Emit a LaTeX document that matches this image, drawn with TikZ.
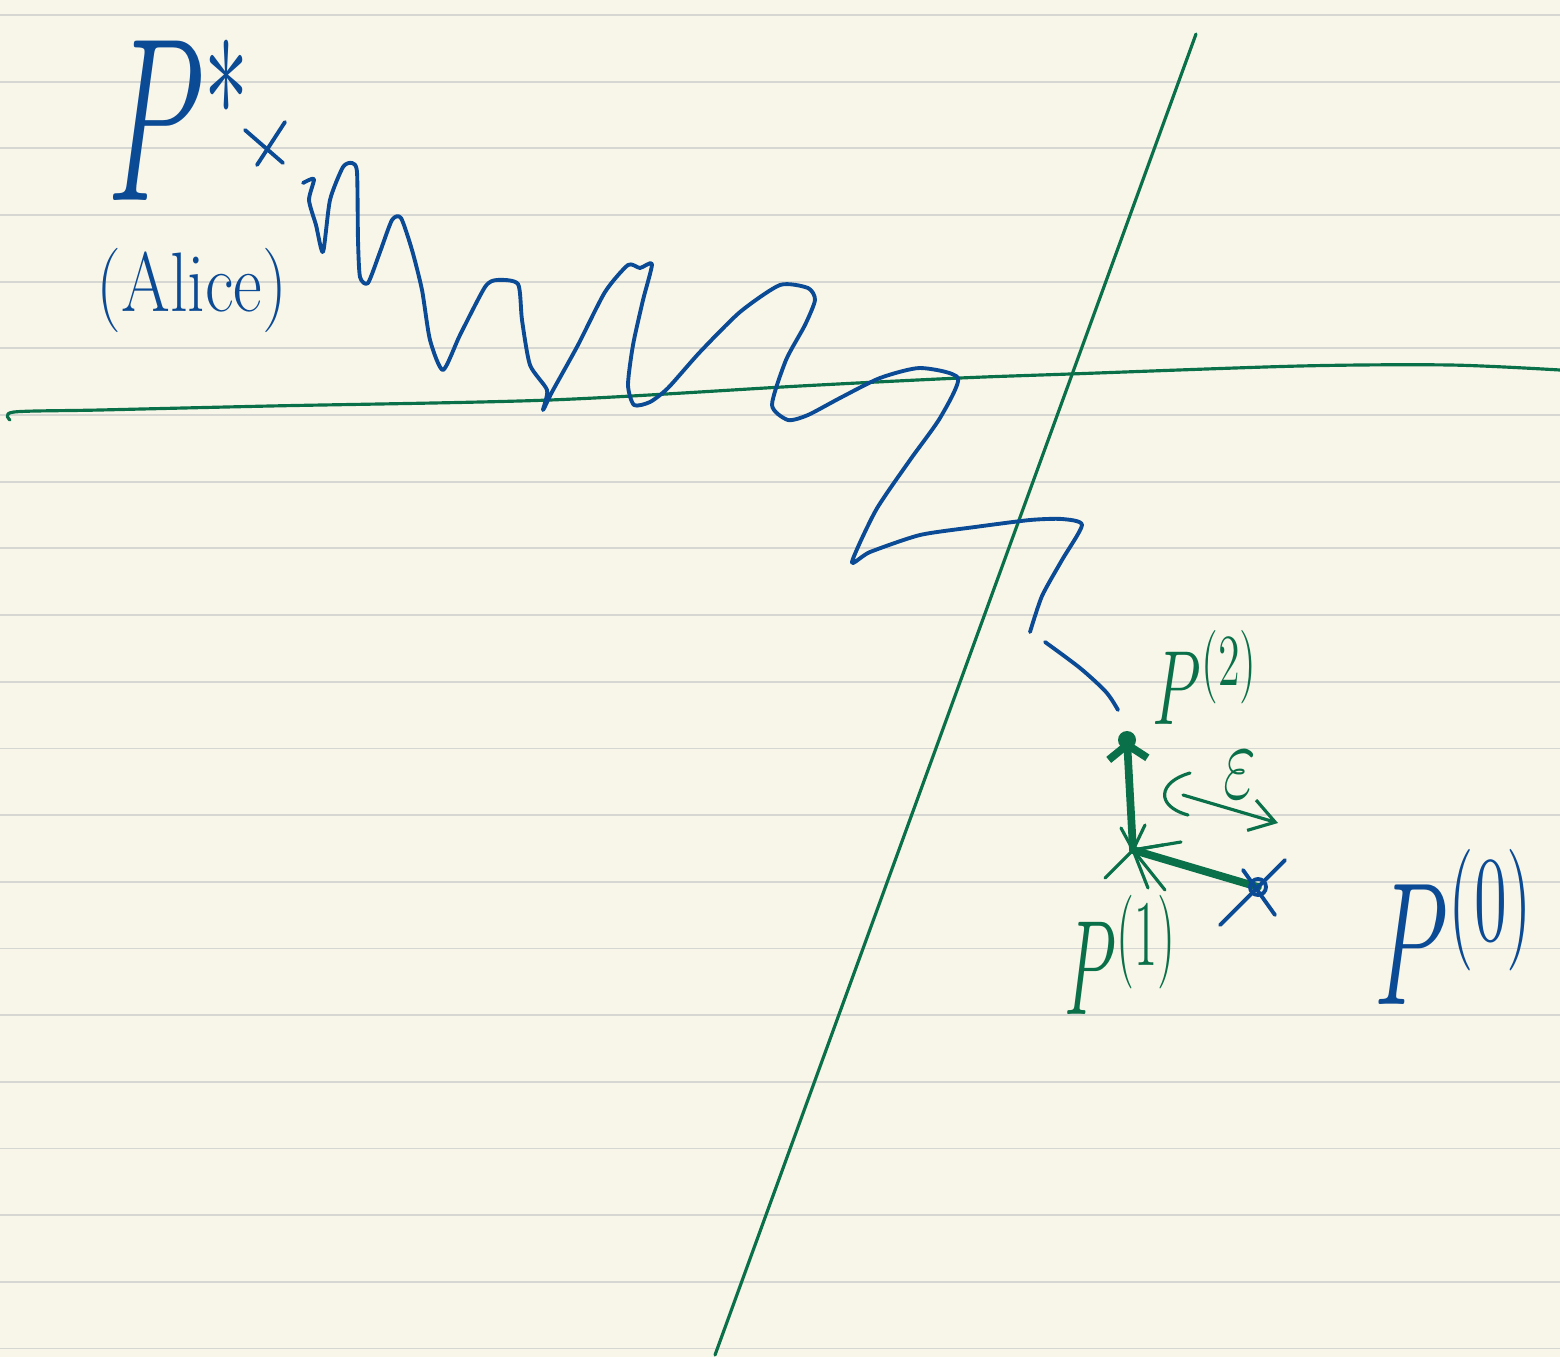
\documentclass[tikz,border=0pt]{standalone}
\usepackage{amsmath}
\usepackage{xcolor}
\usetikzlibrary{arrows.meta}

\definecolor{paper}{HTML}{F8F6E9}
\definecolor{rule}{HTML}{D6D6D2}
\definecolor{inkblue}{HTML}{0B4A94}
\definecolor{inkgreen}{HTML}{0A7049}

\begin{document}
\begin{tikzpicture}[
    x=0.01cm, y=-0.01cm,
    ruled/.style={draw=rule, line width=0.5pt},
    blueink/.style={draw=inkblue, line width=1.1pt, line cap=round, line join=round},
    greenink/.style={draw=inkgreen, line width=0.9pt, line cap=round, line join=round},
    heavy/.style={greenink, line width=2.2pt},
    label/.style={inner sep=0pt, anchor=base west, font=\fontsize{20}{24}\selectfont},
]
    % Paper
    \fill[paper] (0,0) rectangle (1560,1357);
    \useasboundingbox (0,0) rectangle (1560,1357);
    \foreach \k in {0,...,20}
        \draw[ruled] (0,15+66.67*\k) -- (1560,15+66.67*\k);

    % Constraint lines
    \draw[greenink] plot[smooth, tension=0.5] coordinates {(10,420) (14,412) (100,410) (270,406) (550,400) (800,386) (960,378) (1070,374) (1300,366) (1450,365) (1560,370)};
    \draw[greenink] (1196,34) -- (715,1355);

    % Labels
    \node[label, xscale=1.74, yscale=3.2, text=inkblue] (pstar) at (106,200) {$P^{*}$};
    \node[label, anchor=center, xscale=1.0, yscale=1.2, text=inkblue] (alice) at (192,290) {(Alice)};
    \node[label, xscale=0.87, yscale=1.45, text=inkgreen] (ptwo) at (1152,724) {$P^{(2)}$};
    \node[label, xscale=0.93, yscale=1.85, text=inkgreen] (pone) at (1064,1014) {$P^{(1)}$};
    \node[label, xscale=1.32, yscale=2.4, text=inkblue] (pzero) at (1374,1004) {$P^{(0)}$};
    \node[label, anchor=center, xscale=0.98, yscale=1.5, text=inkgreen] (eps) at (1240,775) {$\varepsilon$};

    % Points
    \coordinate (xmark) at (265,145);
    \coordinate (p0) at (1258,887);
    \coordinate (p1) at (1133,850);
    \coordinate (p2) at (1127,740);

    % Alice's cross
    \draw[blueink] (xmark) ++(-20,-15) -- ++(38,33);
    \draw[blueink] (xmark) ++(20,-23) -- ++(-28,43);

    % Zigzag path
    \draw[blueink] plot[smooth, tension=0.4] coordinates {(303,183) (314,179) (309,200) (316,225) (323,252) (330,200) (343,167) (352,163) (357,172) (358,240) (360,277) (368,283) (380,252) (392,220) (401,218) (412,250) (422,290) (430,340) (443,370) (460,335) (485,287) (497,280) (518,284) (522,320) (530,365) (547,390) (543,410) (552,392) (578,345) (605,292) (628,265) (640,268) (652,264) (643,300) (633,345) (628,385) (634,405) (650,402) (668,388) (700,352) (740,312) (780,285) (808,288) (815,300) (805,325) (786,360) (772,405) (788,420) (808,415) (840,398) (880,378) (920,368) (958,378) (940,418) (910,460) (876,510) (852,562) (870,552) (920,535) (975,527) (1030,520) (1062,519) (1082,525) (1062,560) (1042,596) (1030,632)};
    \draw[blueink] plot[smooth, tension=0.5] coordinates {(1045,642) (1080,668) (1106,692) (1118,710)};

    % Steps
    \draw[heavy] (p0) -- (p1);
    \draw[heavy, -{Straight Barb[length=4pt, width=11pt]}] (p1) -- (p2);
    \fill[inkgreen] (p2) circle (9);
    \foreach \dx/\dy in {-28/28, 12/-25, 48/-8, 15/38, 32/40, -12/-22, 30/-5}
        \draw[greenink] (p1) -- ++(\dx,\dy);

    % Start point cross
    \draw[blueink] (p0) ++(-38,38) -- ++(65,-65);
    \draw[blueink] (p0) ++(-15,-17) -- ++(32,45);
    \draw[blueink] (p0) circle (8);

    % Step size
    \draw[greenink] (1190,773) .. controls (1158,782) and (1155,806) .. (1188,815);
    \draw[greenink, -{Straight Barb[length=7pt, width=9pt]}] (1183,795) -- (1278,823);
\end{tikzpicture}
\end{document}
